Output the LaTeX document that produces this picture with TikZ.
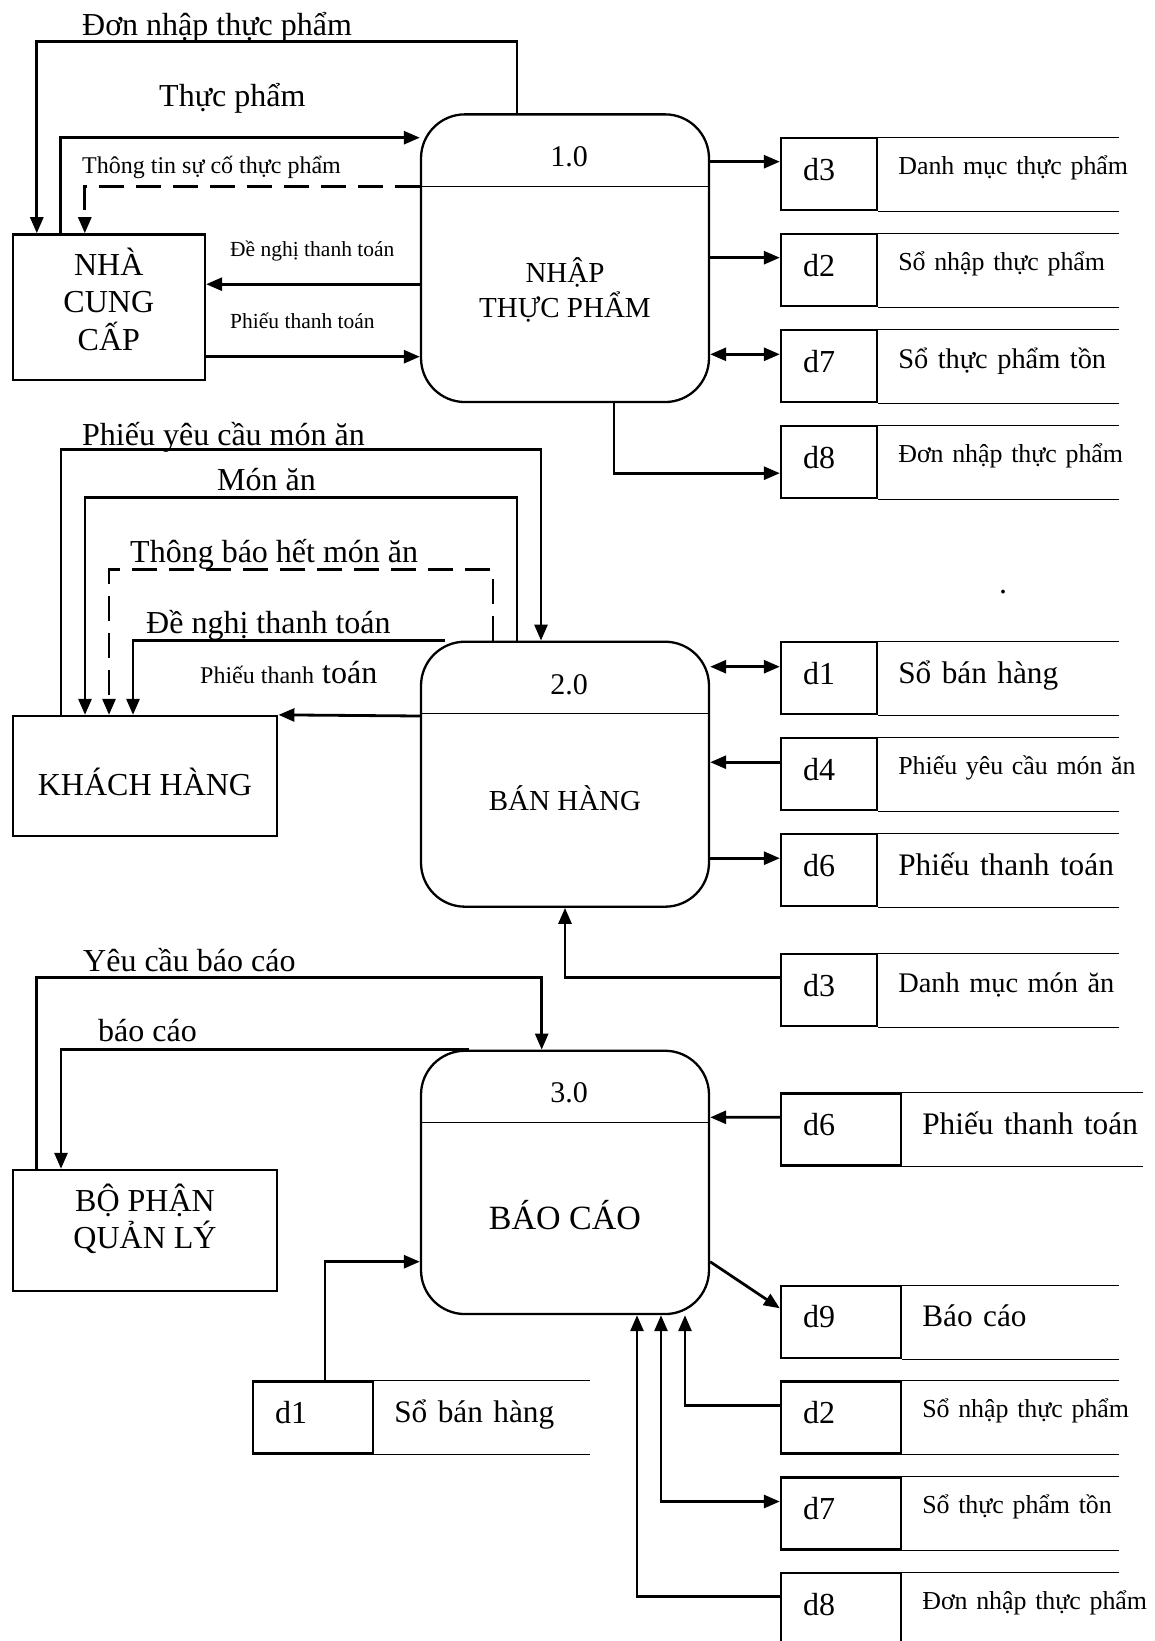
\documentclass[tikz,border=0pt]{standalone}
\usepackage{fontspec}
\setmainfont{Liberation Serif}
\usetikzlibrary{arrows.meta,positioning}
\newcommand{\szbig}{\fontsize{32}{37.5}\selectfont}
\newcommand{\szbc}{\fontsize{34}{40}\selectfont}
\newcommand{\sznum}{\fontsize{30}{36}\selectfont}
\newcommand{\szmid}{\fontsize{29}{35}\selectfont}
\newcommand{\szstb}{\fontsize{31.3}{37}\selectfont}
\newcommand{\szstm}{\fontsize{28.4}{34}\selectfont}
\newcommand{\szsm}{\fontsize{25.9}{31}\selectfont}
\newcommand{\szlbl}{\fontsize{24}{29}\selectfont}
\newcommand{\sztiny}{\fontsize{21.5}{26}\selectfont}
\begin{document}
\begin{tikzpicture}[x=1pt, y=1pt, >={Triangle[length=16pt,width=13pt]},
          ext/.style={draw, line width=2.3pt, align=center, font=\szbig, inner sep=0pt},
          proc/.style={draw, line width=2.3pt, rounded corners=44pt, minimum width=288pt, inner sep=0pt,
            path picture={\draw[line width=1.3pt] ([yshift=-72pt]path picture bounding box.north west) -- ([yshift=-72pt]path picture bounding box.north east);}},
          ptext/.style={align=center, font=\szmid, inner sep=0pt},
          pnum/.style={font=\sznum, inner sep=0pt},
          sid/.style={draw, line width=2.3pt, font=\szbig, text width=52pt, align=left, inner xsep=22pt, inner ysep=0pt, text height=42pt, text depth=30pt},
          sidw/.style={sid, text width=76pt},
          slbl/.style={line width=2.3pt, text width=300pt, align=left, inner xsep=19pt, inner ysep=0pt, font=\szsm, text height=36pt, text depth=36pt,
            append after command={(\tikzlastnode.north west) edge ([xshift=#1]\tikzlastnode.north west)
              (\tikzlastnode.south west) edge ([xshift=#1]\tikzlastnode.south west)}},
          lmid/.style={font=\szstm, text height=38pt, text depth=34pt},
          lbig/.style={font=\szstb, text height=41pt, text depth=31pt},
          lbl/.style={anchor=base west, inner sep=0pt, font=\szbig},
          conn/.style={line width=2.8pt},
          dline/.style={conn, dash pattern=on 25pt off 12pt}]
        \useasboundingbox (0,0) rectangle (1154,-1641);
        % external entities
        \node[ext, minimum width=192.3pt, minimum height=145.7pt] (ncc) at (108.8,-307.2) {NHÀ\\CUNG\\CẤP\rule[-16pt]{0pt}{16pt}};
        \node[ext, minimum width=264.6pt, minimum height=120pt] (kh) at (145,-776) {\rule{0pt}{39pt}KHÁCH HÀNG};
        \node[ext, minimum width=264.6pt, minimum height=120.7pt] (bpql) at (145,-1230.3) {BỘ PHẬN\\QUẢN LÝ\rule[-28pt]{0pt}{28pt}};
        % processes
        \node[proc, minimum height=287.7pt] (p1) at (565,-258.2) {};
        \node[pnum] (p1n) at (569,-157) {1.0};
        \node[ptext] (p1t) at (565,-290) {NHẬP\\THỰC PHẨM};
        \node[proc, minimum height=265pt] (p2) at (565,-774.2) {};
        \node[pnum] (p2n) at (569,-685) {2.0};
        \node[ptext] (p2t) at (565,-798) {BÁN HÀNG};
        \node[proc, minimum height=263.3pt] (p3) at (565,-1182.4) {};
        \node[pnum] (p3n) at (569,-1093) {3.0};
        \node[ptext, font=\szbc] (p3t) at (565,-1215) {BÁO CÁO};
        % data stores
        \node[sid] (s3a) at (829,-174.2) {d3};
        \node[slbl=241, right=0pt of s3a] (s3at) {Danh mục thực phẩm};
        \node[sid] (s2a) at (829,-270.2) {d2};
        \node[slbl=241, right=0pt of s2a] (s2at) {Sổ nhập thực phẩm};
        \node[sid] (s7a) at (829,-366.2) {d7};
        \node[slbl=241, lmid, right=0pt of s7a] (s7at) {Sổ thực phẩm tồn};
        \node[sid] (s8a) at (829,-462.2) {d8};
        \node[slbl=241, right=0pt of s8a] (s8at) {Đơn nhập thực phẩm};
        \node[sid] (s1b) at (829,-678.3) {d1};
        \node[slbl=241, lbig, right=0pt of s1b] (s1bt) {Sổ bán hàng};
        \node[sid] (s4b) at (829,-774.2) {d4};
        \node[slbl=241, right=0pt of s4b] (s4bt) {Phiếu yêu cầu món ăn};
        \node[sid] (s6b) at (829,-870.2) {d6};
        \node[slbl=241, lbig, right=0pt of s6b] (s6bt) {Phiếu thanh toán};
        \node[sid] (s3b) at (829,-990.2) {d3};
        \node[slbl=241, lmid, right=0pt of s3b] (s3bt) {Danh mục món ăn};
        \node[sidw] (s6c) at (841,-1129.5) {d6};
        \node[slbl=241, lbig, right=0pt of s6c] (s6ct) {Phiếu thanh toán};
        \node[sidw] (s9c) at (841,-1321.9) {d9};
        \node[slbl=217, lbig, right=0pt of s9c] (s9ct) {Báo cáo};
        \node[sidw] (s2c) at (841,-1417.5) {d2};
        \node[slbl=217, right=0pt of s2c] (s2ct) {Sổ nhập thực phẩm};
        \node[sidw] (s7c) at (841,-1513.5) {d7};
        \node[slbl=217, right=0pt of s7c] (s7ct) {Sổ thực phẩm tồn};
        \node[sidw] (s8c) at (841,-1609) {d8};
        \node[slbl=217, right=0pt of s8c] (s8ct) {Đơn nhập thực phẩm};
        \node[sidw] (s1c) at (313,-1417.5) {d1};
        \node[slbl=216, lbig, right=0pt of s1c] (s1ct) {Sổ bán hàng};
        % flows of 1.0
        \draw[conn,->] ([xshift=-48pt]p1.north) -- ++(0,72) -| ([xshift=-72pt]ncc.north);
        \draw[conn,->] ([xshift=-48pt]ncc.north) |- ([yshift=120.5pt]p1.west);
        \draw[dline,->] ([yshift=71.5pt]p1.west) -| ([xshift=-24pt]ncc.north);
        \draw[conn,->] ([yshift=-26pt]p1.west) -- ([yshift=23pt]ncc.east);
        \draw[conn,->] ([yshift=-49.5pt]ncc.east) -- ([yshift=-98.5pt]p1.west);
        \draw[conn,->] ([yshift=96.5pt]p1.east) -- ([yshift=12.5pt]s3a.west);
        \draw[conn,->] ([yshift=0.5pt]p1.east) -- ([yshift=12.5pt]s2a.west);
        \draw[conn,<->] ([yshift=-96.1pt]p1.east) -- ([yshift=11.9pt]s7a.west);
        \draw[conn,->] ([xshift=49pt]p1.south) |- ([yshift=-11pt]s8a.west);
        % flows of 2.0
        \draw[conn,->] ([xshift=-84pt]kh.north) -- ++(0,265.5) -| ([xshift=-24pt]p2.north);
        \draw[conn,->] ([xshift=-48pt]p2.north) -- ++(0,143.2) -| ([xshift=-60pt]kh.north);
        \draw[dline,->] ([xshift=-72pt]p2.north) -- ++(0,71) -| ([xshift=-36pt]kh.north);
        \draw[conn,->] ([xshift=-120pt]p2.north) -| ([xshift=-12pt]kh.north);
        \draw[conn,->] ([yshift=58.2pt]p2.west) -- (kh.north east);
        \draw[conn,<->] ([yshift=107.5pt]p2.east) -- ([yshift=11.6pt]s1b.west);
        \draw[conn,->] ([yshift=12pt]s4b.west) -- ([yshift=12pt]p2.east);
        \draw[conn,->] ([yshift=-84pt]p2.east) -- ([yshift=12pt]s6b.west);
        \draw[conn,->] ([yshift=12.5pt]s3b.west) -| (p2.south);
        % flows of 3.0
        \draw[conn,->] ([xshift=-108.3pt]bpql.north) -- ++(0,191) -| ([xshift=-23.3pt]p3.north);
        \draw[conn,->] ([xshift=-96pt]p3.north) -| ([xshift=-84pt]bpql.north);
        \draw[conn,->] ([yshift=12.2pt]s6c.west) -- ([yshift=65.1pt]p3.east);
        \draw[conn,->] ([yshift=-79.3pt]p3.east) -- ([yshift=13.6pt]s9c.west);
        \draw[conn,->] ([yshift=11.8pt]s2c.west) -| ([xshift=120pt]p3.south);
        \draw[conn,<->] ([xshift=96pt]p3.south) |- ([yshift=12pt]s7c.west);
        \draw[conn,->] ([yshift=12.5pt]s8c.west) -| ([xshift=72pt]p3.south);
        \draw[conn,->] ([xshift=12pt]s1c.north) |- ([yshift=-79.3pt]p3.west);
        % flow labels
        \node[lbl] (lb1) at (82,-35) {Đơn nhập thực phẩm};
        \node[lbl] (lb2) at (159,-106.7) {Thực phẩm};
        \node[lbl, font=\szlbl] (lb3) at (82,-173.3) {Thông tin sự cố thực phẩm};
        \node[lbl, font=\sztiny] (lb4) at (230,-256.7) {Đề nghị thanh toán};
        \node[lbl, font=\sztiny] (lb5) at (230,-328.3) {Phiếu thanh toán};
        \node[lbl] (lb6) at (82,-445) {Phiếu yêu cầu món ăn};
        \node[lbl] (lb7) at (217,-490) {Món ăn};
        \node[lbl] (lb8) at (130,-562.3) {Thông báo hết món ăn};
        \node[lbl] (lb9) at (146,-633.3) {Đề nghị thanh toán};
        \node[lbl] (lb10) at (200,-683.3) {{\szlbl Phiếu thanh} toán};
        \node[lbl] (lb11) at (83,-971.7) {Yêu cầu báo cáo};
        \node[lbl] (lb12) at (98,-1041.7) {báo cáo};
        \node[lbl] (dot) at (999,-593) {.};
      \end{tikzpicture}
\end{document}
